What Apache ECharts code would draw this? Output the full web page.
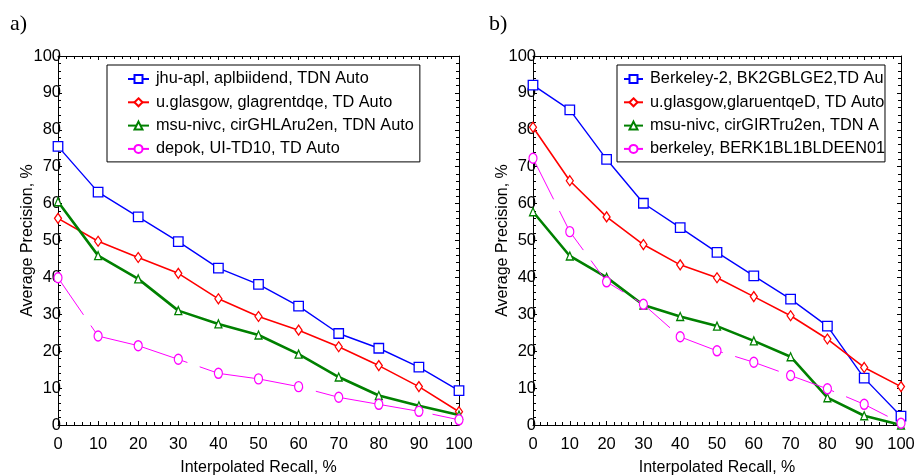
<!DOCTYPE html>
<html>
<head>
<meta charset="utf-8">
<script src="https://cdn.jsdelivr.net/npm/echarts@6/dist/echarts.min.js"></script>
<style>
html,body{margin:0;padding:0;background:#fff;}
#c{width:923px;height:476px;}
</style>
</head>
<body>
<div id="c"></div>
<script>
// ---- data ----
const recall = [0, 10, 20, 30, 40, 50, 60, 70, 80, 90, 100];
const yTicks = [0, 10, 20, 30, 40, 50, 60, 70, 80, 90, 100];

const namesA = [
  'jhu-apl, aplbiidend, TDN Auto',
  'u.glasgow, glagrentdqe, TD Auto',
  'msu-nivc, cirGHLAru2en, TDN Auto',
  'depok, UI-TD10, TD Auto'
];
const a_jhu    = [75.5, 63.1, 56.4, 49.7, 42.5, 38.1, 32.2, 24.8, 20.8, 15.7, 9.3];
const a_glas   = [56.0, 49.8, 45.4, 41.1, 34.2, 29.4, 25.7, 21.2, 16.1, 10.4, 3.6];
const a_msu    = [60.5, 45.9, 39.6, 31.0, 27.4, 24.4, 19.2, 13.0, 8.0, 5.2, 2.7];
const a_depok  = [39.9, 24.1, 21.5, 17.8, 14.0, 12.5, 10.4, 7.5, 5.6, 3.7, 1.4];

const namesB = [
  'Berkeley-2, BK2GBLGE2,TD Auto',
  'u.glasgow,glaruentqeD, TD Auto',
  'msu-nivc, cirGIRTru2en, TDN Auto',
  'berkeley, BERK1BL1BLDEEN01, TD Auto'
];
const b_berk2  = [92.1, 85.4, 72.0, 60.1, 53.5, 46.8, 40.4, 34.1, 26.8, 12.7, 2.4];
const b_glas   = [80.7, 66.2, 56.4, 48.9, 43.4, 39.9, 34.8, 29.6, 23.3, 15.6, 10.4];
const b_msu    = [57.8, 45.8, 40.0, 32.5, 29.4, 26.8, 22.8, 18.5, 7.4, 2.5, 0.0];
const b_berk1  = [72.3, 52.4, 38.8, 32.7, 23.9, 20.1, 17.0, 13.4, 9.8, 5.6, 0.5];

const panelTitles = ['a)', 'b)'];
const xName = 'Interpolated Recall, %';
const yName = 'Average Precision, %';

// ---- styles ----
const styles = [
  {color: '#0000ff', symbol: 'rect', size: 9.5, width: 1.4},
  {color: '#ff0000', symbol: 'diamond', size: [7, 10], width: 1.6},
  {color: '#008000', symbol: 'triangle', size: [7, 8], width: 2.6},
  {color: '#ff00ff', symbol: 'circle', size: [8, 10], width: 1}
];
const dashA = {type: [106, 13], dashOffset: 61};
const dashB = {type: [46, 13], dashOffset: 0};

function pairs(vals) { return recall.map((x, i) => [x, vals[i]]); }

const FONT = 'Liberation Sans, Arial, sans-serif';

const grids = [
  {left: 58, top: 56, width: 401, height: 369},
  {left: 533, top: 56, width: 368, height: 369}
];

function axesFor(gi) {
  const common = {
    type: 'value', min: 0, max: 100, interval: 10, gridIndex: gi,
    splitLine: {show: false},
    axisLine: {show: true, onZero: false, lineStyle: {color: '#000', width: 1}},
    axisTick: {show: true, inside: true, length: 4, lineStyle: {color: '#000'}},
    minorTick: {show: true, splitNumber: 5, length: 3, lineStyle: {color: '#000'}},
  };
  const xs = [
    Object.assign({}, common, {
      position: 'bottom',
      name: xName, nameLocation: 'middle', nameGap: 35,
      nameTextStyle: {fontFamily: FONT, fontSize: 16, color: '#000'},
      axisLabel: {show: true, margin: 11, fontFamily: FONT, fontSize: 16.5, color: '#000',
        formatter: v => yTicks.includes(v) ? String(v) : ''}
    }),
    Object.assign({}, common, {position: 'top', axisLabel: {show: false}})
  ];
  const ys = [
    Object.assign({}, common, {
      position: 'left',
      name: yName, nameLocation: 'middle', nameGap: 22, nameMoveOverlap: false,
      nameTextStyle: {fontFamily: FONT, fontSize: 16, color: '#000'},
      axisLabel: {show: true, margin: -3, fontFamily: FONT, fontSize: 16.5, color: '#000'}
    }),
    Object.assign({}, common, {position: 'right', axisLabel: {show: false}})
  ];
  return {xs, ys};
}

const A = axesFor(0), B = axesFor(1);
const xAxis = [A.xs[0], A.xs[1], B.xs[0], B.xs[1]];
const yAxis = [A.ys[0], A.ys[1], B.ys[0], B.ys[1]];

function mkSeries(name, vals, st, xi, yi, dash) {
  const ls = {color: st.color, width: st.width, type: 'solid'};
  if (dash) { ls.type = dash.type; ls.dashOffset = dash.dashOffset; }
  return {
    name, type: 'line', xAxisIndex: xi, yAxisIndex: yi,
    data: pairs(vals),
    symbol: st.symbol, symbolSize: st.size, showSymbol: true,
    lineStyle: ls,
    itemStyle: {color: '#fff', borderColor: st.color, borderWidth: 1.3},
    emphasis: {disabled: true},
    animation: false, z: 3
  };
}

const dataA = [a_jhu, a_glas, a_msu, a_depok];
const dataB = [b_berk2, b_glas, b_msu, b_berk1];
const series = [];
dataA.forEach((d, i) => series.push(mkSeries(namesA[i], d, styles[i], 0, 0, i === 3 ? dashA : null)));
dataB.forEach((d, i) => series.push(mkSeries(namesB[i], d, styles[i], 2, 2, i === 3 ? dashB : null)));

const legendCommon = {
  orient: 'vertical',
  backgroundColor: '#fff',
  borderColor: '#000', borderWidth: 1, borderRadius: 0,
  itemWidth: 21, itemHeight: 10, itemGap: 7.3,
  selectedMode: false,
  textStyle: {fontFamily: FONT, fontSize: 16.3, color: '#000'},
  z: 10
};

const option = {
  backgroundColor: '#fff',
  animation: false,
  title: [
    {text: panelTitles[0], left: 5, top: 8, textStyle: {fontFamily: 'Liberation Serif, Times New Roman, serif', fontSize: 22, fontWeight: 'normal', color: '#000'}},
    {text: panelTitles[1], left: 484, top: 8, textStyle: {fontFamily: 'Liberation Serif, Times New Roman, serif', fontSize: 22, fontWeight: 'normal', color: '#000'}}
  ],
  grid: grids.map(g => Object.assign({containLabel: false, outerBoundsMode: 'none'}, g)),
  xAxis, yAxis,
  legend: [
    Object.assign({}, legendCommon, {
      data: namesA, left: 107, top: 65, padding: [6, 6, 5, 20],
      textStyle: Object.assign({}, legendCommon.textStyle, {padding: [0, 0, 0, 2]})
    }),
    Object.assign({}, legendCommon, {
      data: namesB, left: 617, top: 65, padding: [6, 0, 5, 6], itemWidth: 19,
      textStyle: Object.assign({}, legendCommon.textStyle, {padding: [0, 0, 0, 2], width: 238, overflow: 'truncate', ellipsis: ''})
    })
  ],
  series
};

const chart = echarts.init(document.getElementById('c'), null, {renderer: 'canvas'});
chart.setOption(option);
</script>
</body>
</html>
